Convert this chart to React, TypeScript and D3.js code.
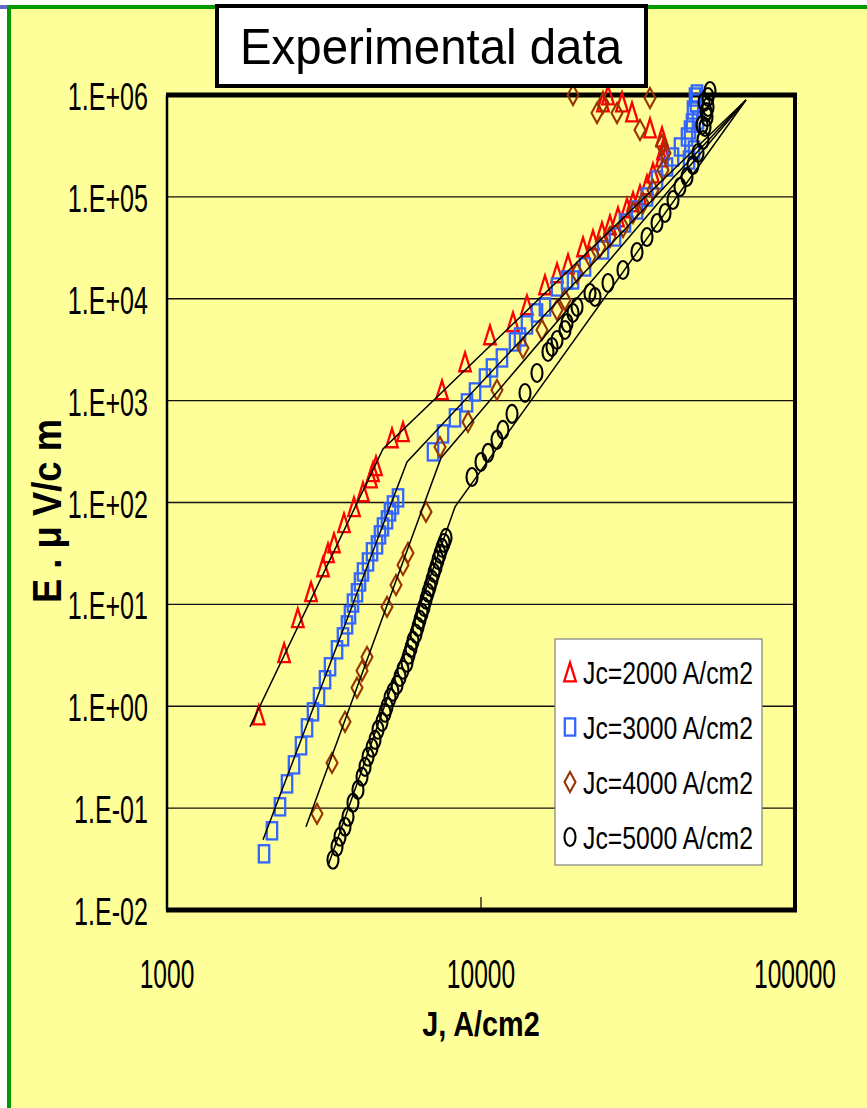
import React from 'react';
import * as d3 from 'd3';

type Pt = [number, number];

const xTicks = [1000, 10000, 100000];
const xTickLabels = ['1000', '10000', '100000'];
const yTicks = [1e6, 1e5, 1e4, 1e3, 1e2, 1e1, 1e0, 1e-1, 1e-2];
const yTickLabels = ['1.E+06', '1.E+05', '1.E+04', '1.E+03', '1.E+02', '1.E+01', '1.E+00', '1.E-01', '1.E-02'];
const seriesNames = ['Jc=2000 A/cm2', 'Jc=3000 A/cm2', 'Jc=4000 A/cm2', 'Jc=5000 A/cm2'];
const titleText = 'Experimental data';
const xTitle = 'J, A/cm2';
const yTitle = 'E . μ V/c m';

// Jc = 2000 A/cm2 (red triangles): [J, E]
const jc2000: Pt[] = [
  [1960, 0.82], [2360, 3.34], [2610, 7.37], [2875, 13.3], [3139, 23.3], [3257, 32.0], [3403, 40.1],
  [3662, 63.1], [3940, 90.5], [4209, 127], [4464, 174], [4529, 200], [4630, 229], [5207, 430],
  [5644, 493], [7513, 1274], [8894, 2397], [10680, 4413], [12645, 5920], [14011, 8694],
  [15986, 13656], [17464, 17912], [18930, 21962], [21129, 32240], [22734, 37770], [24284, 45240],
  [25750, 52990], [27308, 63500], [29170, 77830], [30482, 89120], [32090, 104390], [33780, 130900],
  [35297, 171600], [37710, 246400], [37985, 288600], [37710, 387100], [34530, 474500],
  [30261, 681200], [28120, 853700], [25378, 1000000], [24461, 853700],
];

// Jc = 3000 A/cm2 (blue squares)
const jc3000: Pt[] = [
  [2037, 0.0356], [2159, 0.0599], [2290, 0.103], [2411, 0.173], [2538, 0.266], [2672, 0.409],
  [2792, 0.614], [2917, 0.881], [3049, 1.24], [3186, 1.82], [3305, 2.44], [3479, 3.58], [3635, 4.8],
  [3743, 6.29], [3826, 7.89], [3911, 10.3], [4028, 13.0], [4118, 16.6], [4209, 20.8], [4367, 26.1],
  [4497, 32.8], [4664, 38.4], [4768, 48.1], [4874, 57.6], [5019, 67.5], [5131, 80.9], [5245, 94.7],
  [5441, 111], [7033, 314], [7567, 471], [8265, 677], [9025, 950], [9570, 1217], [10298, 1670],
  [10838, 2094], [11660, 2625], [12833, 3768], [13310, 4218], [14011, 5533], [15075, 7256],
  [15986, 8312], [17464, 13053], [18791, 15293], [19636, 15293], [21443, 20514], [24461, 30120],
  [26713, 40410], [28746, 55440], [31392, 74380], [33780, 99770], [36350, 146500], [39118, 196600],
  [40878, 246400], [43030, 308900], [45298, 387100], [46985, 531200], [47328, 712800],
  [48031, 955800], [48740, 1023000], [46300, 453400], [47680, 288600], [45970, 230200],
  [48384, 834600], [49100, 568400],
];

// Jc = 4000 A/cm2 (brown diamonds)
const jc4000: Pt[] = [
  [3004, 0.0879], [3354, 0.278], [3689, 0.703], [4028, 1.52], [4179, 2.23], [4335, 3.05],
  [5019, 9.45], [5362, 15.5], [5644, 24.4], [5855, 32.0], [6681, 80.9], [7403, 351], [9092, 618],
  [11243, 1274], [13606, 3290], [15638, 4940], [17464, 7765], [18518, 9732], [20222, 17912],
  [22240, 25720], [23930, 32240], [25750, 40410], [28325, 50650], [30482, 69500], [32802, 87130],
  [35297, 116900], [37985, 183600], [38550, 269700], [37710, 323100], [32090, 453400],
  [27107, 665900], [24461, 834600], [23412, 665900], [19636, 1000000], [34530, 934500],
];

// Jc = 5000 A/cm2 (black circles)
const jc5000: Pt[] = [
  [3378, 0.0311], [3479, 0.0417], [3556, 0.0523], [3689, 0.0656], [3771, 0.0822], [3911, 0.113],
  [4057, 0.151], [4179, 0.203], [4272, 0.254], [4367, 0.319], [4497, 0.391], [4597, 0.468],
  [4699, 0.587], [4839, 0.703], [4946, 0.862], [5019, 0.987], [5131, 1.21], [5245, 1.39],
  [5401, 1.62], [5521, 1.94], [5644, 2.28], [5812, 2.67], [5898, 3.2], [5986, 3.74], [6074, 4.38],
  [6209, 5.14], [6302, 6.02], [6393, 7.05], [6488, 8.25], [6583, 9.45], [6681, 11.1], [6780, 13.0],
  [6880, 14.9], [6982, 17.4], [7085, 20.4], [7190, 23.3], [7296, 27.3], [7403, 31.3], [7513, 35.9],
  [7624, 40.1], [7736, 45.0],
  [9362, 178], [10000, 250], [10528, 307], [11243, 412], [11745, 516], [12553, 741], [13808, 1190],
  [15075, 1870], [16342, 3006], [16836, 3365], [17464, 3942], [18518, 4940], [18791, 5788],
  [19636, 7256], [20222, 8312], [22240, 11400], [23072, 10415], [25378, 14290], [28325, 19170],
  [31392, 28790], [33780, 40410], [36350, 55440], [38550, 69500], [40878, 93250], [43030, 125100],
  [45298, 156800], [47328, 205600], [49100, 269700], [50936, 361700], [51694, 485300],
  [52456, 608300], [52845, 762600], [52845, 955800], [53620, 1094000], [51315, 853700],
  [52072, 681200], [50567, 507700],
];

// model (fit) lines
const fit2000: Pt[] = [[1838, 0.628], [4874, 336], [69800, 893000]];
const fit3000: Pt[] = [[2022, 0.0489], [5812, 250], [69800, 893000]];
const fit4000: Pt[] = [[2771, 0.0656], [7457, 274], [69800, 893000]];
const fit5000: Pt[] = [[3257, 0.0272], [8265, 90.5], [69800, 893000]];

const RED = '#FF0000';
const BLUE = '#3366FF';
const BROWN = '#993300';
const BLACK = '#000000';
const YELLOW = '#FFFF99';
const GREEN = '#009900';
const FONT = 'Liberation Sans, Arial, sans-serif';

type Kind = 'tri' | 'sq' | 'dia' | 'circ';

function Marker({ kind, cx, cy }: { kind: Kind; cx: number; cy: number }) {
  if (kind === 'tri') {
    const w = 5.8, h = 9.3;
    return <path d={`M${cx},${cy - h}L${cx + w},${cy + h}L${cx - w},${cy + h}Z`} fill="none" stroke={RED} strokeWidth={2.3} strokeLinejoin="miter" />;
  }
  if (kind === 'sq') {
    const w = 5.2, h = 8.6;
    return <rect x={cx - w} y={cy - h} width={2 * w} height={2 * h} fill="none" stroke={BLUE} strokeWidth={2.3} />;
  }
  if (kind === 'dia') {
    const w = 5.5, h = 10;
    return <path d={`M${cx},${cy - h}L${cx + w},${cy}L${cx},${cy + h}L${cx - w},${cy}Z`} fill="none" stroke={BROWN} strokeWidth={2.1} />;
  }
  return <ellipse cx={cx} cy={cy} rx={5.5} ry={9} fill="none" stroke={BLACK} strokeWidth={2.1} />;
}

export default function App() {
  const x = d3.scaleLog().domain([1000, 100000]).range([167, 795]);
  const y = d3.scaleLog().domain([1e-2, 1e6]).range([910, 95]);
  const line = d3.line<Pt>().x((d) => x(d[0])).y((d) => y(d[1]));

  const series: { data: Pt[]; kind: Kind; fit: Pt[] }[] = [
    { data: jc2000, kind: 'tri', fit: fit2000 },
    { data: jc3000, kind: 'sq', fit: fit3000 },
    { data: jc4000, kind: 'dia', fit: fit4000 },
    { data: jc5000, kind: 'circ', fit: fit5000 },
  ];

  const [x0, x1] = x.range();
  const legendRows = [672, 727, 782, 837];

  return (
    <svg width={867} height={1108} style={{ position: 'absolute', left: 0, top: 0 }} fontFamily={FONT}>
      <rect x={0} y={0} width={867} height={1108} fill="#ffffff" />
      <rect x={7} y={5} width={860} height={1103} fill={YELLOW} />
      <rect x={7} y={5} width={4} height={1103} fill={GREEN} />
      <rect x={7} y={5} width={860} height={4} fill={GREEN} />
      <rect x={0} y={5} width={7} height={4} fill="#6666CC" />

      {/* gridlines */}
      {yTicks.slice(1, -1).map((t) => (
        <line key={t} x1={x0} x2={x1} y1={y(t)} y2={y(t)} stroke="#111" strokeWidth={1.3} />
      ))}
      <line x1={x(10000)} x2={x(10000)} y1={y(1e-2)} y2={y(1e-2) - 13} stroke="#000" strokeWidth={1.2} />

      {/* plot border */}
      <line x1={x0} x2={x0} y1={y(1e6)} y2={y(1e-2)} stroke="#000" strokeWidth={2.5} />
      <line x1={x1} x2={x1} y1={y(1e6)} y2={y(1e-2)} stroke="#000" strokeWidth={4} />
      <line x1={x0 - 1} x2={x1 + 2} y1={y(1e6)} y2={y(1e6)} stroke="#000" strokeWidth={5} />
      <line x1={x0 - 1} x2={x1 + 2} y1={y(1e-2)} y2={y(1e-2)} stroke="#000" strokeWidth={5} />

      {/* y tick labels */}
      {yTicks.map((t, i) => (
        <text key={t} transform={`translate(148,${y(t) + 15}) scale(0.66,1)`} textAnchor="end" fontSize={38} fill="#000">
          {yTickLabels[i]}
        </text>
      ))}
      {/* x tick labels */}
      {xTicks.map((t, i) => (
        <text key={t} transform={`translate(${x(t)},988) scale(0.6,1)`} textAnchor="middle" fontSize={41} fill="#000">
          {xTickLabels[i]}
        </text>
      ))}
      {/* axis titles */}
      <text transform={`translate(${x(10000)},1036) scale(0.8,1)`} textAnchor="middle" fontSize={36} fontWeight="bold">
        {xTitle}
      </text>
      <text transform="translate(61,511) rotate(-90)" textAnchor="middle" fontSize={40} fontWeight="bold" textLength={184} lengthAdjust="spacingAndGlyphs">
        {yTitle}
      </text>

      {/* markers */}
      {series.map((s, si) => (
        <g key={si}>
          {s.data.map((d, i) => (
            <Marker key={i} kind={s.kind} cx={x(d[0])} cy={y(d[1])} />
          ))}
        </g>
      ))}
      {/* fit lines */}
      {series.map((s, si) => (
        <path key={si} d={line(s.fit) || ''} fill="none" stroke="#000" strokeWidth={1.5} />
      ))}

      {/* title box */}
      <rect x={217} y={6} width={429} height={80} fill="#fff" stroke="#000" strokeWidth={4} />
      <text x={431} y={64} textAnchor="middle" fontSize={50} textLength={382} lengthAdjust="spacingAndGlyphs">
        {titleText}
      </text>

      {/* legend */}
      <rect x={555} y={639} width={207} height={226} fill="#fff" stroke="#808080" strokeWidth={1.2} />
      {series.map((s, i) => (
        <g key={i}>
          <Marker kind={s.kind} cx={570} cy={legendRows[i]} />
          <text x={583} y={legendRows[i] + 12} fontSize={32} textLength={170} lengthAdjust="spacingAndGlyphs">
            {seriesNames[i]}
          </text>
        </g>
      ))}
    </svg>
  );
}
